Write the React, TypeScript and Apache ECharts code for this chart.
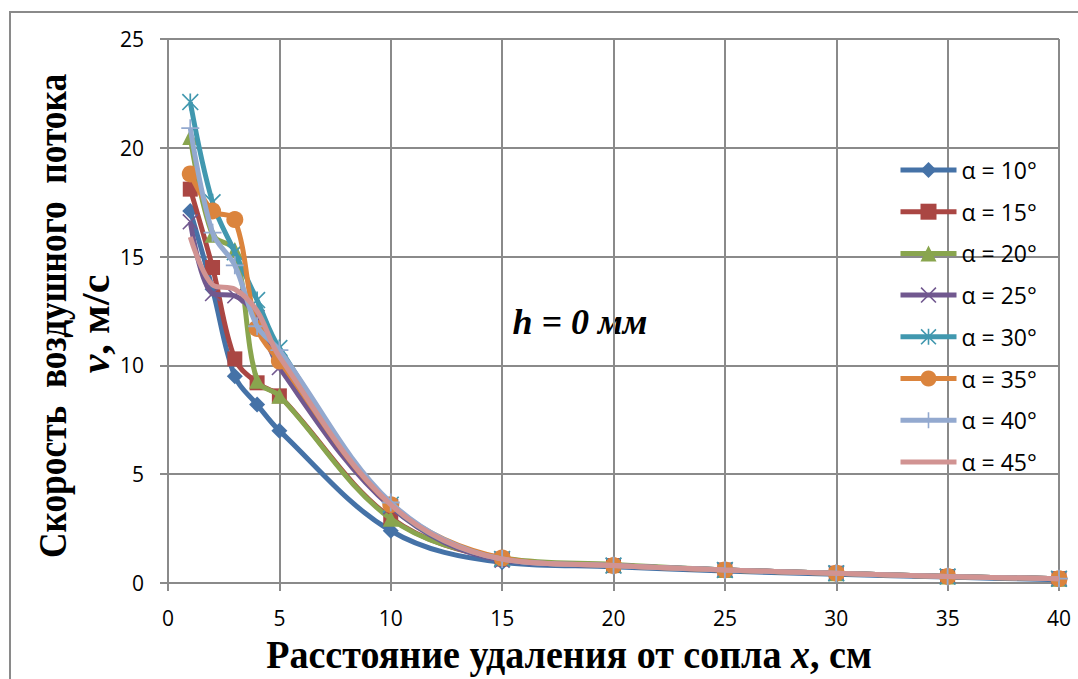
import React, { useEffect, useRef } from "react";
import * as echarts from "echarts";

const xValues = [1, 2, 3, 4, 5, 10, 15, 20, 25, 30, 35, 40];
const seriesNames = ["α = 10°", "α = 15°", "α = 20°", "α = 25°", "α = 30°", "α = 35°", "α = 40°", "α = 45°"];
const a10 = [17.1, 13.5, 9.5, 8.2, 7.0, 2.4, 0.95, 0.75, 0.55, 0.4, 0.27, 0.15];
const a15 = [18.1, 14.5, 10.3, 9.2, 8.6, 3.0, 1.1, 0.8, 0.6, 0.45, 0.3, 0.2];
const a20 = [20.5, 16.0, 15.3, 9.3, 8.6, 2.95, 1.15, 0.85, 0.6, 0.45, 0.3, 0.2];
const a25 = [16.6, 13.3, 13.2, 12.2, 9.9, 3.5, 1.05, 0.8, 0.6, 0.45, 0.3, 0.2];
const a30 = [22.1, 17.5, 15.2, 13.0, 10.8, 3.6, 1.1, 0.8, 0.6, 0.45, 0.3, 0.2];
const a35 = [18.8, 17.1, 16.7, 11.7, 10.2, 3.6, 1.15, 0.8, 0.6, 0.45, 0.3, 0.2];
const a40 = [20.9, 16.1, 14.6, 11.8, 10.7, 3.7, 1.1, 0.8, 0.6, 0.45, 0.3, 0.2];
const a45 = [15.9, 13.7, 13.5, 12.5, 10.4, 3.6, 1.1, 0.8, 0.6, 0.45, 0.3, 0.2];
const allSeries = [a10, a15, a20, a25, a30, a35, a40, a45];
const colors = ["#4572A7", "#AA4643", "#89A54E", "#71588F", "#4198AF", "#DB843D", "#93A9CF", "#D19392"];

const X_PATH = "path://M0,0.7 L0.7,0 L5,4.3 L9.3,0 L10,0.7 L5.7,5 L10,9.3 L9.3,10 L5,5.7 L0.7,10 L0,9.3 L4.3,5 Z";
const STAR_PATH = "path://M0,0.7 L0.7,0 L5,4.3 L9.3,0 L10,0.7 L5.7,5 L10,9.3 L9.3,10 L5,5.7 L0.7,10 L0,9.3 L4.3,5 Z M4.5,0 L5.5,0 L5.5,10 L4.5,10 Z";
const PLUS_PATH = "path://M4.5,0 L5.5,0 L5.5,4.5 L10,4.5 L10,5.5 L5.5,5.5 L5.5,10 L4.5,10 L4.5,5.5 L0,5.5 L0,4.5 L4.5,4.5 Z";
const symbols = ["diamond", "rect", "triangle", X_PATH, STAR_PATH, "circle", PLUS_PATH, "none"];
const symbolSizes = [16, 15, 16, 16, 17, 17, 18, 0];

const GRAY = "#8a8a8a";
const SERIF = "'Liberation Serif', 'Times New Roman', serif";
const SANS = "'Open Sans', 'Noto Sans', sans-serif";

export default function App() {
  const ref = useRef<HTMLDivElement>(null);
  useEffect(() => {
    if (!ref.current) return;
    const chart = echarts.init(ref.current, null, { renderer: "svg" });
    const series = allSeries.map((vals, i) => ({
      name: seriesNames[i],
      type: "line",
      data: xValues.map((x, j) => [x, vals[j]]),
      smooth: 0.35,
      symbol: symbols[i],
      symbolSize: symbolSizes[i],
      showSymbol: symbols[i] !== "none",
      lineStyle: { color: colors[i], width: 5 },
      itemStyle: { color: colors[i] },
      color: colors[i],
      z: 2 + i,
    }));
    const legendData = seriesNames.map((n, i) =>
      symbols[i] === "none" ? { name: n, itemStyle: { opacity: 0 } } : { name: n }
    );
    chart.setOption({
      animation: false,
      backgroundColor: "#fff",
      grid: { left: 168, right: 19, top: 39, bottom: 96, containLabel: false },
      xAxis: {
        type: "value",
        min: 0,
        max: 40,
        interval: 5,
        axisLine: { show: true, onZero: false, lineStyle: { color: GRAY, width: 2 } },
        axisTick: { show: true, length: 8, lineStyle: { color: GRAY, width: 2 } },
        splitLine: { show: true, lineStyle: { color: GRAY, width: 2 } },
        axisLabel: { color: "#000", fontSize: 21, fontFamily: SANS, margin: 24 },
      },
      yAxis: {
        type: "value",
        min: 0,
        max: 25,
        interval: 5,
        axisLine: { show: true, lineStyle: { color: GRAY, width: 2 } },
        axisTick: { show: true, length: 8, lineStyle: { color: GRAY, width: 2 } },
        splitLine: { show: true, lineStyle: { color: GRAY, width: 2 } },
        axisLabel: { color: "#000", fontSize: 21, fontFamily: SANS, margin: 24 },
      },
      legend: {
        orient: "vertical",
        left: 893,
        top: 153,
        itemWidth: 56,
        itemHeight: 20,
        itemGap: 17.7,
        lineStyle: { width: 5 },
        textStyle: { color: "#000", fontSize: 23, fontFamily: SANS, lineHeight: 24 },
        data: legendData,
      },
      graphic: [
        {
          type: "rect",
          shape: { x: 10, y: 12, width: 1100, height: 720 },
          style: { fill: "none", stroke: GRAY, lineWidth: 2 },
          silent: true,
        },
        {
          type: "text",
          x: 52,
          y: 316,
          rotation: Math.PI / 2,
          scaleX: 0.885,
          style: {
            text: "Скорость  воздушного  потока",
            font: `bold 40px ${SERIF}`,
            fill: "#000",
            align: "center",
            verticalAlign: "middle",
          },
        },
        {
          type: "text",
          x: 95,
          y: 324,
          rotation: Math.PI / 2,
          scaleX: 1.05,
          style: {
            text: "{i|v}{n|, м/с}",
            fill: "#000",
            align: "center",
            verticalAlign: "middle",
            rich: {
              i: { font: `italic bold 40px ${SERIF}`, fill: "#000" },
              n: { font: `bold 40px ${SERIF}`, fill: "#000" },
            },
          },
        },
        {
          type: "text",
          x: 569,
          y: 655,
          scaleX: 0.975,
          style: {
            text: "{n|Расстояние удаления от сопла }{i|x}{n|, см}",
            fill: "#000",
            align: "center",
            verticalAlign: "middle",
            rich: {
              i: { font: `italic bold 39px ${SERIF}`, fill: "#000" },
              n: { font: `bold 39px ${SERIF}`, fill: "#000" },
            },
          },
        },
        {
          type: "text",
          x: 580,
          y: 322,
          style: {
            text: "h = 0 мм",
            font: `italic bold 36px ${SERIF}`,
            fill: "#000",
            align: "center",
            verticalAlign: "middle",
          },
        },
      ],
      series,
    });
    return () => chart.dispose();
  }, []);
  return (
    <div
      ref={ref}
      style={{ position: "fixed", left: 0, top: 0, width: 1078, height: 679, background: "#fff" }}
    />
  );
}
